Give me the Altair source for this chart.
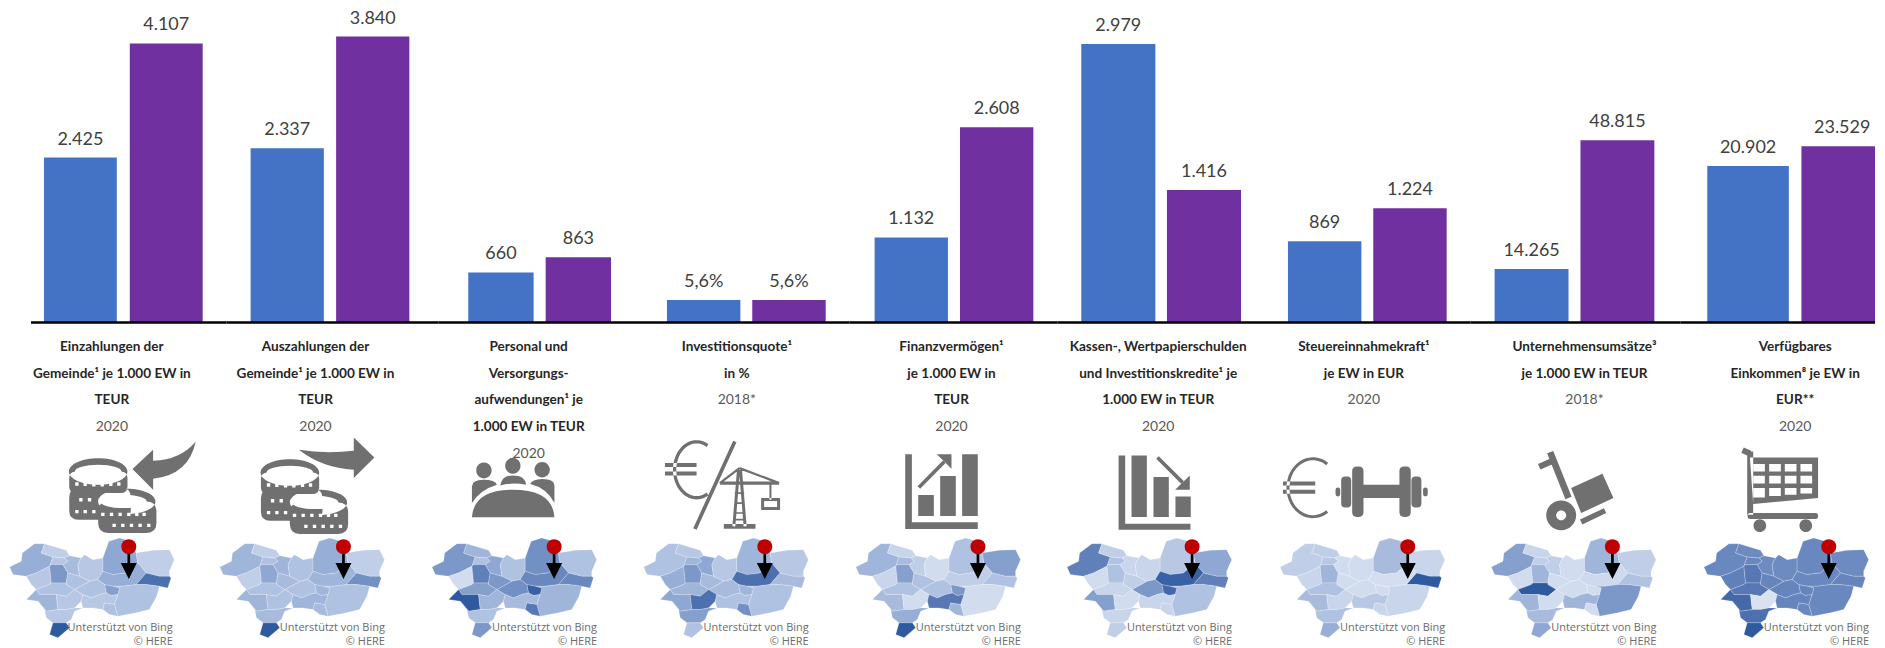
import math
import re
import altair as alt
import pandas as pd

# ---------- chart values ----------
series = ["Gemeinde", "Vergleich"]
titles = [
    "Einzahlungen der\nGemeinde¹ je 1.000 EW in\nTEUR",
    "Auszahlungen der\nGemeinde¹ je 1.000 EW in\nTEUR",
    "Personal und\nVersorgungs-\naufwendungen¹ je\n1.000 EW in TEUR",
    "Investitionsquote¹\nin %",
    "Finanzvermögen¹\nje 1.000 EW in\nTEUR",
    "Kassen-, Wertpapierschulden\nund Investitionskredite¹ je\n1.000 EW in TEUR",
    "Steuereinnahmekraft¹\nje EW in EUR",
    "Unternehmensumsätze³\nje 1.000 EW in TEUR",
    "Verfügbares\nEinkommen⁸ je EW in\nEUR**",
]
years = ["2020", "2020", "2020", "2018*", "2020", "2020", "2020", "2018*", "2020"]
values_a = [2425, 2337, 660, 5.6, 1132, 2979, 869, 14265, 20902]
values_b = [4107, 3840, 863, 5.6, 2608, 1416, 1224, 48815, 23529]
labels_a = ["2.425", "2.337", "660", "5,6%", "1.132", "2.979", "869", "14.265", "20.902"]
labels_b = ["4.107", "3.840", "863", "5,6%", "2.608", "1.416", "1.224", "48.815", "23.529"]
panel_max = [4622, 4217, 4170, 80, 4198, 3360, 3372, 84215, 41982]

# Map shading per region (0 light .. 1 dark), one row per panel
shades = [
    [.45,.20,.25,.25,.60,.35,.25,.50,.20,.45,.85,.30,.55,.30,.30,.30,.40,.25,.25,.30,.25,1.0],
    [.40,.20,.30,.20,.50,.40,.30,.45,.20,.40,.65,.30,.40,.30,.35,.30,.40,.30,.40,.35,.35,1.0],
    [.60,.40,.30,.10,.75,.50,.30,.65,.30,.70,.70,.40,.95,.65,.60,.55,1.0,.40,.35,.80,.30,.60],
    [.30,.25,.40,.45,.60,.50,.25,.40,.25,.85,.35,.30,.40,.35,.35,.40,.50,.85,.30,.65,.55,.30],
    [.40,.15,.35,.15,.55,.20,.10,.30,.55,.20,.30,.10,.60,.30,.30,.30,.35,.10,.80,.40,.45,1.0],
    [.75,.20,.30,.10,.30,.15,.15,.25,.50,.95,.75,.30,.90,.60,.20,.15,.55,.10,.15,.15,.15,.20],
    [.20,.20,.25,.15,.40,.10,.10,.35,.15,.08,1.0,.15,.10,.10,.10,.30,.35,.15,.25,.15,.30,.45],
    [.55,.15,.20,.10,.40,.20,.10,.40,.20,.12,.30,.60,.10,.10,.10,1.0,.40,.10,.40,.10,.35,.50],
    [.70,.68,.70,.75,.80,.68,.68,.70,.68,.70,.72,.70,.72,.72,.72,.80,.90,.05,.72,.70,.85,1.0],
]

# ---------- layout constants (page pixels) ----------
FONT_LABEL = "Lato"
FONT_MAP = "Open Sans"
BLUE, PURPLE, GREY = "#4472C4", "#7030A0", "#707070"
BOUNDS = [8, 226, 438, 639, 850, 1058, 1265, 1472, 1682, 1877]
BAR_A = [(43, 116), (250, 324.5), (468, 533), (667, 741), (875, 948), (1082, 1155.5), (1289, 1363), (1496, 1570), (1709, 1790)]
BAR_B = [(129, 202), (337, 409), (545, 611), (753, 826), (960, 1034), (1167, 1242), (1375, 1448), (1582, 1656), (1802.5, 1885)]
TEXT_X = [111, 315, 528.5, 737, 952, 1159, 1365, 1586, 1797]
MAP_RIGHT = [172, 384.5, 597, 809, 1021.5, 1233, 1446.5, 1658, 1871]
PIN_DX = [128, 130.5, 129, 128, 129, 132, 134.5, 128, 131.7]
BASE_Y = 322.5
TOP_Y = 8
TITLE_Y = 340
LINE = 26.8


class Pen:
    """Turns crop coordinates (3x zoom) into a symbol path relative to an anchor."""

    def __init__(self, x0, y0, ax, ay):
        self.x0, self.y0, self.ax, self.ay = x0, y0, ax, ay

    def p(self, x, y):
        return f"{self.x0 + x / 3 - self.ax:.2f},{self.y0 + y / 3 - self.ay:.2f}"

    def d(self, s):
        return re.sub(r"(-?\d+(?:\.\d+)?),(-?\d+(?:\.\d+)?)",
                      lambda m: self.p(float(m.group(1)), float(m.group(2))), s)

    def poly(self, *pts):
        return "M" + " L".join(self.p(*q) for q in pts) + " Z"

    def rect(self, x, y, w, h):
        return self.poly((x, y), (x + w, y), (x + w, y + h), (x, y + h))

    def ell(self, cx, cy, rx, ry=None):
        ry = rx if ry is None else ry
        rx3, ry3 = rx / 3, ry / 3
        return (f"M{self.p(cx - rx, cy)} A{rx3:.2f} {ry3:.2f} 0 1 0 {self.p(cx + rx, cy)} "
                f"A{rx3:.2f} {ry3:.2f} 0 1 0 {self.p(cx - rx, cy)} Z")

    def thick(self, x1, y1, x2, y2, w):
        L = math.hypot(x2 - x1, y2 - y1)
        nx, ny = -(y2 - y1) / L * w / 2, (x2 - x1) / L * w / 2
        return self.poly((x1 + nx, y1 + ny), (x2 + nx, y2 + ny), (x2 - nx, y2 - ny), (x1 - nx, y1 - ny))

    def rrect(self, x, y, w, h, r):
        return self.d(f"M{x + r},{y} L{x + w - r},{y} Q{x + w},{y} {x + w},{y + r} L{x + w},{y + h - r} "
                      f"Q{x + w},{y + h} {x + w - r},{y + h} L{x + r},{y + h} Q{x},{y + h} {x},{y + h - r} "
                      f"L{x},{y + r} Q{x},{y} {x + r},{y} Z")

    def arc(self, cx, cy, rx, ry, a0, a1, w):
        n = 40
        ang = [math.radians(a0 + (a1 - a0) * i / n) for i in range(n + 1)]
        out = [(cx + (rx + w / 2) * math.cos(a), cy + (ry + w / 2) * math.sin(a)) for a in ang]
        inn = [(cx + (rx - w / 2) * math.cos(a), cy + (ry - w / 2) * math.sin(a)) for a in reversed(ang)]
        return self.poly(*(out + inn))


def coins(pen, dx, dy):
    g = [pen.ell(292 + dx, 110 + dy, 88, 40), pen.rrect(205 + dx, 110 + dy, 175, 65, 20),
         pen.rrect(205 + dx, 160 + dy, 185, 95, 28), pen.rrect(292 + dx, 200 + dy, 175, 95, 30),
         pen.ell(378 + dx, 200 + dy, 86, 38)]
    w = [pen.ell(292 + dx, 110 + dy, 70, 20), pen.ell(368 + dx, 200 + dy, 70, 20)]
    for x in (228, 253, 279, 304, 330, 354):
        w.append(pen.rect(x + dx - 5, 146 + dy + abs(x - 291) * -0.05, 10, 10))
    for x in (240, 266):
        w.append(pen.rect(x + dx - 5, 190 + dy, 10, 10))
    for x in (228, 253, 279):
        w.append(pen.rect(x + dx - 5, 226 + dy, 10, 10))
    for x in (306, 332, 358, 384, 408, 430):
        w.append(pen.rect(x + dx - 5, 234 + dy, 10, 10))
    for x in (340, 366, 392, 418, 444):
        w.append(pen.rect(x + dx - 5, 267 + dy, 10, 10))
    return g, w


def icon_1(ax, ay):
    pen = Pen(0, 435, ax, ay)
    g, w = coins(pen, 0, 0)
    g.append(pen.d("M395,103 L457,45 L457,78 Q540,75 585,20 Q565,120 457,132 L457,165 Z"))
    return g, w


def icon_2(ax, ay):
    pen = Pen(0, 435, ax, ay)
    g, w = coins(pen, 576, 3)
    g.append(pen.d("M1122,68 L1060,8 L1060,48 Q975,58 895,45 Q965,100 1060,105 L1060,130 Z"))
    return g, w


def icon_3(ax, ay):
    pen = Pen(440, 435, ax, ay)
    g = [pen.ell(131, 107, 23), pen.ell(218, 93, 23), pen.ell(306, 105, 23),
         pen.d("M95,205 L95,155 Q95,135 130,135 Q165,135 170,150 Q120,165 95,205 Z"),
         pen.d("M180,152 Q185,122 218,122 Q255,122 258,150 Q218,142 180,152 Z"),
         pen.d("M343,205 L343,155 Q343,133 306,133 Q275,135 270,148 Q320,160 343,205 Z"),
         pen.d("M95,248 Q100,165 218,165 Q338,165 343,248 Z")]
    return g, []


def icon_4(ax, ay):
    pen = Pen(440, 435, ax, ay)
    g = [pen.arc(770, 105, 66, 84, -60, -300, 10), pen.rect(675, 85, 95, 12), pen.rect(675, 110, 95, 12),
         pen.thick(885, 20, 765, 283, 11),
         pen.thick(882, 275, 896, 105, 9), pen.thick(916, 275, 902, 105, 9),
         pen.thick(840, 145, 1018, 145, 10), pen.thick(899, 100, 840, 145, 7), pen.thick(899, 100, 1018, 145, 7),
         pen.rect(852, 268, 95, 14), pen.thick(992, 145, 992, 195, 6), pen.rect(964, 190, 57, 36)]
    for y in (175, 205, 235, 255):
        g.append(pen.thick(885, y, 913, y, 5))
    w = [pen.rect(973, 199, 39, 18)]
    return g, w


def icon_5(ax, ay):
    pen = Pen(860, 435, ax, ay)
    g = [pen.rect(137, 58, 20, 225), pen.rect(137, 263, 218, 20), pen.rect(176, 181, 47, 63),
         pen.rect(242, 124, 47, 120), pen.rect(308, 58, 47, 186), pen.thick(178, 158, 255, 80, 11),
         pen.poly((232, 58), (276, 58), (276, 102))]
    return g, []


def icon_6(ax, ay):
    pen = Pen(860, 435, ax, ay)
    g = [pen.rect(778, 62, 20, 223), pen.rect(778, 267, 216, 18), pen.rect(817, 62, 46, 185),
         pen.rect(883, 127, 46, 120), pen.rect(949, 185, 46, 62), pen.thick(895, 68, 970, 143, 11),
         pen.poly((992, 122), (992, 165), (948, 165))]
    return g, []


def icon_7(ax, ay):
    pen = Pen(1270, 435, ax, ay)
    g = [pen.arc(132, 159, 75, 87, -55, -305, 9), pen.rect(42, 140, 97, 12), pen.rect(42, 165, 97, 12),
         pen.rect(282, 150, 112, 40), pen.rrect(250, 95, 34, 152, 14), pen.rrect(392, 95, 34, 152, 14),
         pen.rrect(217, 125, 30, 93, 12), pen.rrect(428, 125, 30, 93, 12),
         pen.rrect(200, 158, 14, 27, 7), pen.rrect(463, 158, 14, 27, 7)]
    return g, []


def icon_8(ax, ay):
    pen = Pen(1270, 435, ax, ay)
    g = [pen.thick(845, 52, 900, 190, 20), pen.thick(848, 80, 812, 96, 18), pen.ell(878, 242, 45),
         pen.poly((908, 160), (1002, 117), (1035, 190), (938, 235)), pen.thick(938, 262, 1010, 228, 16)]
    w = [pen.ell(878, 242, 15)]
    return g, w


def icon_9(ax, ay):
    pen = Pen(1690, 435, ax, ay)
    g = [pen.thick(163, 46, 185, 56, 18), pen.thick(186, 50, 186, 240, 18),
         pen.poly((185, 68), (390, 68), (390, 190), (195, 208)), pen.rrect(178, 235, 212, 18, 8),
         pen.ell(215, 273, 19), pen.ell(353, 273, 19)]
    w = []
    for i, x in enumerate((195, 243, 290, 337)):
        wd = 35
        w += [pen.rect(x, 88, wd, 22), pen.rect(x, 123, wd, 23), pen.rect(x, 160, wd, 28 - i * 4)]
    return g, w


ICONS = [icon_1, icon_2, icon_3, icon_4, icon_5, icon_6, icon_7, icon_8, icon_9]

# Region outlines of the map, crop coordinates
REGIONS = [
    [(20,112),(55,95),(58,70),(95,42),(125,42),(115,70),(150,82),(140,110),(100,130),(70,140),(30,135)],
    [(125,42),(190,62),(200,78),(185,85),(150,82),(115,70)],
    [(150,82),(185,85),(195,95),(180,105),(145,105),(140,110)],
    [(70,140),(100,130),(140,110),(145,160),(140,165),(100,180),(85,165)],
    [(140,110),(145,105),(180,105),(195,130),(190,160),(145,160)],
    [(185,85),(200,78),(235,85),(225,105),(230,140),(195,130),(180,105),(195,95)],
    [(235,85),(245,75),(270,90),(300,85),(300,125),(285,150),(260,155),(230,140),(225,105)],
    [(300,85),(318,35),(350,25),(385,35),(400,70),(405,100),(370,130),(330,135),(300,125)],
    [(400,70),(450,62),(500,60),(515,90),(500,125),(500,140),(470,140),(430,130),(405,100)],
    [(300,125),(330,135),(370,130),(405,100),(430,130),(400,165),(360,170),(330,170),(305,165),(285,150)],
    [(430,130),(470,140),(500,140),(505,145),(495,175),(470,170),(430,165),(400,165)],
    [(360,170),(400,165),(430,165),(470,170),(462,200),(440,240),(400,250),(345,260),(335,225),(345,195),(350,175),(330,170)],
    [(305,165),(330,170),(350,175),(345,195),(325,198),(310,190)],
    [(215,180),(260,155),(285,150),(305,165),(310,190),(290,195),(265,205),(240,195)],
    [(195,130),(230,140),(260,155),(215,180),(190,165),(190,160)],
    [(100,180),(140,165),(145,160),(190,160),(190,165),(215,180),(190,200),(160,195),(110,195)],
    [(70,210),(100,180),(110,195),(160,195),(165,240),(130,245),(105,215)],
    [(160,195),(190,200),(215,180),(240,195),(235,215),(215,235),(190,240),(165,240)],
    [(240,195),(265,205),(290,195),(310,190),(325,198),(345,195),(335,225),(305,220),(300,240),(270,235),(240,235),(235,215),],
    [(305,220),(335,225),(345,260),(320,255),(300,240)],
    [(105,215),(130,245),(165,240),(190,240),(215,235),(240,235),(215,245),(205,270),(190,280),(150,280),(130,265),(125,240)],
    [(150,280),(190,280),(200,295),(165,325),(140,315)],
]

one = pd.DataFrame({"k": [0]})


def symbol(path, x, y, color):
    return alt.Chart(one).mark_point(shape=path, filled=True, size=4, opacity=1, color=color, strokeWidth=0).encode(
        x=alt.value(x), y=alt.value(y))


panels = []
for i in range(9):
    L, R = BOUNDS[i], BOUNDS[i + 1]
    w = R - L
    mx, my = w / 2, 480 - TOP_Y
    ax, ay = L + mx, 480

    a0, a1 = BAR_A[i]
    b0, b1 = BAR_B[i]
    step = b0 - a0
    gap = b0 - a1
    bars_df = pd.DataFrame({"series": series, "value": [values_a[i], values_b[i]],
                            "label": [labels_a[i], labels_b[i]]})
    x_enc = alt.X("series:N", sort=series, axis=None,
                  scale=alt.Scale(domain=series, range=[a0 - L, b1 - L], paddingInner=gap / step, paddingOuter=0))
    y_enc = alt.Y("value:Q", axis=None,
                  scale=alt.Scale(domain=[0, panel_max[i]], range=[BASE_Y - 0.5 - TOP_Y, 0]))
    bars = alt.Chart(bars_df).mark_bar(clip=True).encode(
        x=x_enc, y=y_enc,
        color=alt.Color("series:N", legend=None, scale=alt.Scale(domain=series, range=[BLUE, PURPLE])))
    vals = alt.Chart(bars_df).mark_text(font=FONT_LABEL, fontSize=18, color="#404040", baseline="alphabetic", dy=-13).encode(
        x=x_enc, y=y_enc, text="label:N")
    rule = alt.Chart(one).mark_rule(color="black", strokeWidth=2.5).encode(
        x=alt.value(22 if i == 0 else 0), x2=alt.value(w), y=alt.value(BASE_Y - TOP_Y))

    n = titles[i].count("\n") + 1
    tx = TEXT_X[i] - L
    title = alt.Chart(pd.DataFrame({"t": [titles[i]]})).mark_text(
        font=FONT_LABEL, fontSize=13.6, fontWeight="bold", color="#262626", lineBreak="\n", lineHeight=LINE,
        baseline="top", align="center").encode(x=alt.value(tx), y=alt.value(TITLE_Y - TOP_Y), text="t:N")
    year = alt.Chart(pd.DataFrame({"t": [years[i]]})).mark_text(
        font=FONT_LABEL, fontSize=14, color="#595959", baseline="top", align="center").encode(
        x=alt.value(tx), y=alt.value(TITLE_Y - TOP_Y + n * LINE), text="t:N")

    gray, white = ICONS[i](ax, ay)
    layers = [bars, vals, rule, symbol(" ".join(gray), mx, my, GREY)]
    if white:
        layers.append(symbol(" ".join(white), mx, my, "white"))
    layers += [title, year]

    # map
    mo = max(MAP_RIGHT[i] - 172, 2)
    my_anchor = 590
    mpen = Pen(mo, 530, ax, my_anchor)
    map_df = pd.DataFrame({"path": [mpen.poly(*r) for r in REGIONS], "shade": shades[i]})
    regions = alt.Chart(map_df).mark_point(filled=True, size=4, opacity=1, stroke="white", strokeWidth=0.4, strokeOpacity=0.55).encode(
        x=alt.value(mx), y=alt.value(my_anchor - TOP_Y),
        shape=alt.Shape("path:N", scale=None),
        fill=alt.Fill("shade:Q", legend=None,
                      scale=alt.Scale(domain=[0, 0.5, 1], range=["#e2e9f5", "#8fa8d3", "#2e5aa0"])))
    layers.append(regions)

    pin_x = MAP_RIGHT[i] - 172 + PIN_DX[i]
    arrow_pen = Pen(pin_x, 530, ax, my_anchor)
    arrow = arrow_pen.d("M-4,60 L4,60 L4,100 L24,100 L0,148 L-24,100 L-4,100 Z")
    layers.append(symbol(arrow, mx, my_anchor - TOP_Y, "black"))
    layers.append(alt.Chart(one).mark_point(shape="circle", filled=True, size=225, opacity=1, color="#C00000", strokeWidth=0).encode(
        x=alt.value(pin_x - L), y=alt.value(547 - TOP_Y)))

    credit = pd.DataFrame({"t": ["Unterstützt von Bing\n© HERE"]})
    layers.append(alt.Chart(credit).mark_text(
        font=FONT_MAP, fontSize=11, color="#6b6b6b", align="right", baseline="middle", lineBreak="\n", lineHeight=14.5).encode(
        x=alt.value(MAP_RIGHT[i] - L), y=alt.value(628 - TOP_Y), text="t:N"))

    panels.append(alt.layer(*layers).properties(width=w, height=632))

chart = alt.hconcat(*panels, spacing=0, bounds="flush").properties(padding=0).configure_view(stroke=None)
chart.save("out.html", embed_options={"renderer": "svg", "actions": False})
